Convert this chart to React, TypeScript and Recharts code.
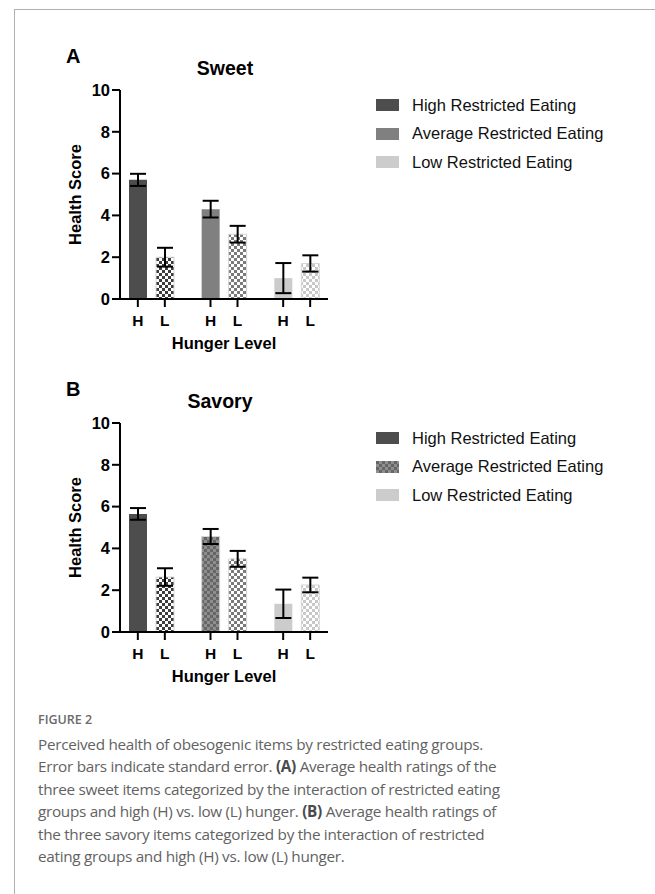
import React from 'react';
import { BarChart, Bar, XAxis, YAxis, ErrorBar, Cell, Legend } from 'recharts';

// restricted eating groups (one cluster per group)
const groups = ['High Restricted Eating', 'Average Restricted Eating', 'Low Restricted Eating'];
const hungerLabels = ['H', 'L'];
const yTicks = [0, 2, 4, 6, 8, 10];

// Panel A - sweet items
const sweetHigh = [5.7, 4.3, 1.0];
const sweetHighErr = [0.29, 0.4, 0.72];
const sweetLow = [2.0, 3.1, 1.7];
const sweetLowErr = [0.45, 0.4, 0.39];

// Panel B - savory items
const savoryHigh = [5.65, 4.57, 1.35];
const savoryHighErr = [0.28, 0.36, 0.68];
const savoryLow = [2.63, 3.5, 2.25];
const savoryLowErr = [0.42, 0.38, 0.35];

const captionLines = [
  'Perceived health of obesogenic items by restricted eating groups.',
  'Error bars indicate standard error. (A) Average health ratings of the',
  'three sweet items categorized by the interaction of restricted eating',
  'groups and high (H) vs. low (L) hunger. (B) Average health ratings of',
  'the three savory items categorized by the interaction of restricted',
  'eating groups and high (H) vs. low (L) hunger.',
];

const FONT = '"Liberation Sans", Arial, sans-serif';
const BAR_OFFSET = 13.5; // half the distance between H and L bar centres

const buildData = (high: number[], highErr: number[], low: number[], lowErr: number[]) =>
  groups.map((g, i) => ({ group: g, high: high[i], highErr: highErr[i], low: low[i], lowErr: lowErr[i] }));

const sweetData = buildData(sweetHigh, sweetHighErr, sweetLow, sweetLowErr);
const savoryData = buildData(savoryHigh, savoryHighErr, savoryLow, savoryLowErr);

// checker pattern definitions: [id suffix, dark colour, light colour]
const checkers: Array<[string, string, string]> = [
  ['dark', '#3d3d3d', '#ffffff'],
  ['mid', '#7a7a7a', '#ffffff'],
  ['light', '#c8c8c8', '#ffffff'],
  ['avg', '#666666', '#8e8e8e'],
];

function Checker({ id, dark, light }: { id: string; dark: string; light: string }) {
  return (
    <pattern id={id} width={6} height={6} patternUnits="userSpaceOnUse">
      <rect width={6} height={6} fill={light} />
      <rect width={3} height={3} fill={dark} />
      <rect x={3} y={3} width={3} height={3} fill={dark} />
    </pattern>
  );
}

const HungerTick = (props: any) => {
  const { x, y } = props;
  return (
    <g>
      {hungerLabels.map((lab, i) => {
        const cx = x + (i === 0 ? -BAR_OFFSET : BAR_OFFSET);
        return (
          <g key={lab}>
            <line x1={cx} x2={cx} y1={y} y2={y + 8} stroke="#000" strokeWidth={2} />
            <text x={cx} y={y + 27} textAnchor="middle" fontFamily={FONT} fontWeight="bold" fontSize={15.5} fill="#000">
              {lab}
            </text>
          </g>
        );
      })}
    </g>
  );
};

function LegendBox({ fills, prefix }: { fills: string[]; prefix: string }) {
  return (
    <div style={{ fontFamily: FONT, fontSize: 16.5, color: '#111' }}>
      {groups.map((g, i) => (
        <div key={g} style={{ display: 'flex', alignItems: 'center', height: 28.5 }}>
          <svg width={23} height={12} style={{ marginRight: 13 }}>
            <defs>
              {checkers.map(([s, d, l]) => (
                <Checker key={s} id={`${prefix}-lg-${s}`} dark={d} light={l} />
              ))}
            </defs>
            <rect width={23} height={12} fill={fills[i].replace(`${prefix}-`, `${prefix}-lg-`)} />
          </svg>
          <span>{g}</span>
        </div>
      ))}
    </div>
  );
}

interface PanelProps {
  top: number;
  letter: string;
  title: string;
  titleX: number;
  data: any[];
  highFills: string[];
  prefix: string;
}

function Panel({ top, letter, title, titleX, data, highFills, prefix }: PanelProps) {
  const lowFills = [`url(#${prefix}-dark)`, `url(#${prefix}-mid)`, `url(#${prefix}-light)`];
  return (
    <div style={{ position: 'absolute', left: 0, top, width: 655, height: 360 }}>
      <div style={{ position: 'absolute', left: 66, top: 45, fontFamily: FONT, fontWeight: 'bold', fontSize: 20 }}>{letter}</div>
      <div
        style={{
          position: 'absolute', left: titleX - 60, width: 120, top: 57, textAlign: 'center',
          fontFamily: FONT, fontWeight: 'bold', fontSize: 19.5,
        }}
      >
        {title}
      </div>
      <div
        style={{
          position: 'absolute', left: 124, width: 200, top: 334, textAlign: 'center',
          fontFamily: FONT, fontWeight: 'bold', fontSize: 16.5,
        }}
      >
        Hunger Level
      </div>
      <BarChart
        width={655}
        height={360}
        data={data}
        margin={{ top: 90, right: 327, bottom: 21, left: 30 }}
        barSize={18}
        barGap={9}
      >
        <defs>
          {checkers.map(([s, d, l]) => (
            <Checker key={s} id={`${prefix}-${s}`} dark={d} light={l} />
          ))}
        </defs>
        <XAxis
          dataKey="group"
          height={40}
          padding={{ left: -5, right: -5 }}
          axisLine={{ stroke: '#000', strokeWidth: 2 }}
          tickLine={false}
          tickSize={0}
          tickMargin={0}
          tick={<HungerTick />}
          interval={0}
        />
        <YAxis
          width={90}
          domain={[0, 10]}
          ticks={yTicks}
          interval={0}
          axisLine={{ stroke: '#000', strokeWidth: 2 }}
          tickLine={{ stroke: '#000', strokeWidth: 2 }}
          tickSize={8}
          tick={{ fill: '#000', fontSize: 16.5, fontWeight: 'bold', fontFamily: FONT }}
          label={{
            value: 'Health Score', angle: -90, position: 'center',
            style: { fill: '#000', fontSize: 16.5, fontWeight: 'bold', fontFamily: FONT },
          }}
        />
        <Legend
          layout="vertical"
          align="center"
          verticalAlign="middle"
          wrapperStyle={{ left: 376, top: 91, width: 270 }}
          content={() => <LegendBox fills={highFills} prefix={prefix} />}
        />
        <Bar dataKey="high" isAnimationActive={false}>
          {data.map((d, i) => (
            <Cell key={d.group} fill={highFills[i]} stroke={highFills[i].startsWith('url') ? '#d6d6d6' : 'none'} />
          ))}
          <ErrorBar dataKey="highErr" width={8} strokeWidth={2} stroke="#000" isAnimationActive={false} />
        </Bar>
        <Bar dataKey="low" isAnimationActive={false}>
          {data.map((d, i) => (
            <Cell key={d.group} fill={lowFills[i]} stroke="#d6d6d6" strokeWidth={1} />
          ))}
          <ErrorBar dataKey="lowErr" width={8} strokeWidth={2} stroke="#000" isAnimationActive={false} />
        </Bar>
      </BarChart>
    </div>
  );
}

function CaptionLine({ text }: { text: string }) {
  const parts = text.split(/(\([AB]\))/);
  return (
    <div style={{ whiteSpace: 'nowrap', height: 22.4 }}>
      {parts.map((p, i) =>
        /^\([AB]\)$/.test(p) ? (
          <b key={i} style={{ color: '#4a4a4a' }}>{p}</b>
        ) : (
          <span key={i}>{p}</span>
        )
      )}
    </div>
  );
}

export default function App() {
  return (
    <div style={{ position: 'absolute', left: 0, top: 0, width: 655, height: 894, background: '#fff', overflow: 'hidden' }}>
      <div style={{ position: 'absolute', left: 14, top: 9, width: 660, height: 900, borderLeft: '1px solid #b0b0b0', borderTop: '1px solid #b0b0b0' }} />
      <Panel
        top={0}
        letter="A"
        title="Sweet"
        titleX={225}
        data={sweetData}
        highFills={['#4d4d4d', '#808080', '#cccccc']}
        prefix="pa"
      />
      <Panel
        top={333}
        letter="B"
        title="Savory"
        titleX={220}
        data={savoryData}
        highFills={['#4d4d4d', 'url(#pb-avg)', '#cccccc']}
        prefix="pb"
      />
      <div style={{ position: 'absolute', left: 38, top: 711, fontFamily: '"Open Sans", sans-serif', fontWeight: 600, fontSize: 12.5, color: '#6a6a6a' }}>
        FIGURE 2
      </div>
      <div style={{ position: 'absolute', left: 38, top: 733, fontFamily: '"Open Sans", sans-serif', fontSize: 15.3, lineHeight: '22.4px', color: '#626262', letterSpacing: -0.3 }}>
        {captionLines.map((l) => (
          <CaptionLine key={l} text={l} />
        ))}
      </div>
    </div>
  );
}
